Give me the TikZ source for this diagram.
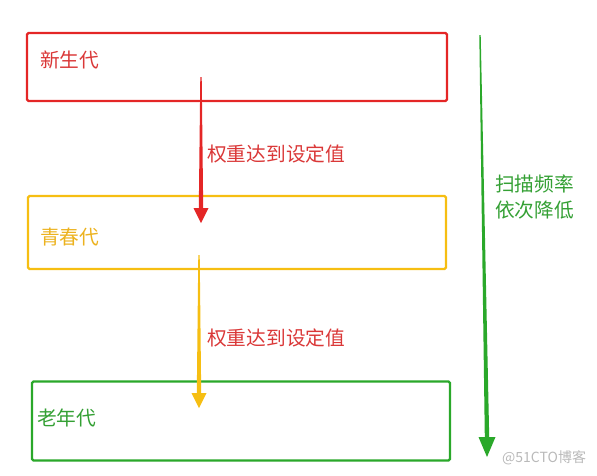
\documentclass[tikz,border=0pt]{standalone}
\usepackage{fontspec}
\newfontfamily\cjk{Noto Sans CJK SC}
\usetikzlibrary{calc}

\definecolor{genred}{RGB}{228,38,38}
\definecolor{genyellow}{RGB}{246,190,18}
\definecolor{gengreen}{RGB}{42,168,42}
\definecolor{txtred}{RGB}{218,56,56}
\definecolor{txtyellow}{RGB}{236,178,30}
\definecolor{txtgreen}{RGB}{52,160,52}

% tapered arrow: colour, from, to, head half width, head length
\newcommand{\taperarrow}[5]{%
  \fill[#1] ($(#2)+(-0.7,0)$) -- ($(#2)+(0.7,0)$) -- ($(#3)+(2.2,-#5)$)
    -- ($(#3)+(#4,-#5)$) -- (#3) -- ($(#3)+(-#4,-#5)$)
    -- ($(#3)+(-2.2,-#5)$) -- cycle;}

\begin{document}
\begin{tikzpicture}[x=1pt,y=-1pt,
  gen box/.style={draw,line width=2.2pt,rounded corners=1.5pt,
    inner sep=0pt},
  gen text/.style={font=\cjk\fontsize{19.7}{26}\selectfont,
    anchor=west,inner sep=0pt}]

  \useasboundingbox (0,0) rectangle (597,475);

  \node[gen box,genred,minimum width=420pt,minimum height=68pt]
    (xinsheng) at (237,67) {};
  \node[gen box,genyellow,minimum width=418pt,minimum height=73pt]
    (qingchun) at (237,232.5) {};
  \node[gen box,gengreen,minimum width=418pt,minimum height=79pt]
    (laonian) at (241,421) {};

  \node[gen text,txtred] (xinshenglbl) at (40,60) {新生代};
  \node[gen text,txtyellow] (qingchunlbl) at (40,237) {青春代};
  \node[gen text,txtgreen] (laonianlbl) at (37,418) {老年代};

  % promotion arrows
  \coordinate (p1s) at (201,77);
  \coordinate (p1e) at (201,223);
  \coordinate (p2s) at (199,255);
  \coordinate (p2e) at (199,408);
  \taperarrow{genred}{p1s}{p1e}{7.5}{15}
  \taperarrow{genyellow}{p2s}{p2e}{7.5}{15}
  \node[gen text,txtred] (promo1) at (207,154) {权重达到设定值};
  \node[gen text,txtred] (promo2) at (207,338) {权重达到设定值};

  % scan frequency
  \coordinate (scans) at (480,35);
  \coordinate (scane) at (487,457);
  \taperarrow{gengreen}{scans}{scane}{8.5}{20}
  \node[gen text,txtgreen,align=left] (scanlbl) at (495,197)
    {扫描频率\\依次降低};

  \node[anchor=west,inner sep=0pt,text=gray!55,
    font=\cjk\fontsize{14}{16}\selectfont] (mark) at (502,458)
    {@51CTO博客};
\end{tikzpicture}
\end{document}
